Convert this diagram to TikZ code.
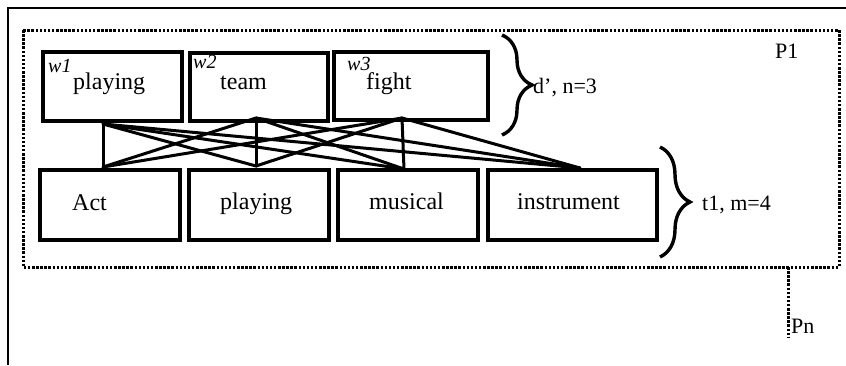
\documentclass[tikz,border=0pt]{standalone}
\usepackage{fontspec}
\setmainfont{Liberation Serif}
\usetikzlibrary{decorations.pathreplacing}
\begin{document}
\begin{tikzpicture}[x=1pt,y=-1pt,
  wbox/.style={draw, line width=3.6pt, inner sep=0pt},
  wtext/.style={inner sep=0pt, anchor=base west, font=\fontsize{24}{28}\selectfont},
  wtag/.style={inner sep=0pt, anchor=base west, font=\fontsize{20}{24}\selectfont\itshape},
  lbl/.style={inner sep=0pt, anchor=base west, font=\fontsize{22}{26}\selectfont},
  link/.style={line width=3pt, line cap=round},
  dotline/.style={line width=3pt, dash pattern=on 2.5pt off 1.6pt},
  bracebig/.style={line width=3.4pt, decorate, decoration={brace, amplitude=30pt}}]
\useasboundingbox (0,0) rectangle (846,365);
% outer frame (partial)
\draw[line width=2.4pt] (8,365) -- (8,8) -- (846,8);
% dotted panel
\draw[dotline] (23,30) rectangle (839,267);
\coordinate (pnTop) at (788,267);
\coordinate (pnBot) at (788,338);
\draw[dotline] (pnTop) -- (pnBot);
% anchors
\coordinate (ta1) at (103,124);
\coordinate (ta2) at (256,118);
\coordinate (ta3) at (402,118);
\coordinate (ba1) at (103,167);
\coordinate (ba2) at (256,166);
\coordinate (ba3) at (404,169);
\coordinate (ba4) at (580,168);
\foreach \t in {ta1,ta2,ta3}{
  \foreach \b in {ba1,ba2,ba3,ba4}{
    \draw[link] (\t) -- (\b);
  }
}
% top boxes
\node[wbox, minimum width=139pt, minimum height=69pt] (tb1) at (112.5,86.5) {};
\node[wbox, minimum width=138pt, minimum height=68pt] (tb2) at (259,87) {};
\node[wbox, minimum width=154pt, minimum height=68pt] (tb3) at (411,86) {};
% bottom boxes
\node[wbox, minimum width=140pt, minimum height=70pt] (bb1) at (110,205) {};
\node[wbox, minimum width=140pt, minimum height=70pt] (bb2) at (259,205) {};
\node[wbox, minimum width=140pt, minimum height=70pt] (bb3) at (408,205) {};
\node[wbox, minimum width=169pt, minimum height=70pt] (bb4) at (572.5,205) {};
% texts
\node[wtext] (tx1) at (73,89) {playing};
\node[wtext] (tx2) at (220,89) {team};
\node[wtext] (tx3) at (366,89) {fight};
\node[wtag] (w1) at (48,72) {w1};
\node[wtag] (w2) at (193,68) {w2};
\node[wtag] (w3) at (347,70) {w3};
\node[wtext] (bx1) at (72,210) {Act};
\node[wtext] (bx2) at (220,209) {playing};
\node[wtext] (bx3) at (369,209) {musical};
\node[wtext] (bx4) at (517,209) {instrument};
% braces
\draw[bracebig] (502,35) -- (502,135);
\draw[bracebig] (660,147) -- (660,257);
\node[lbl] (dl) at (533,93) {d’, n=3};
\node[lbl] (tl) at (702,210) {t1, m=4};
\node[lbl] (p1) at (775,58) {P1};
\node[lbl] (pn) at (791,333) {Pn};
\end{tikzpicture}
\end{document}
